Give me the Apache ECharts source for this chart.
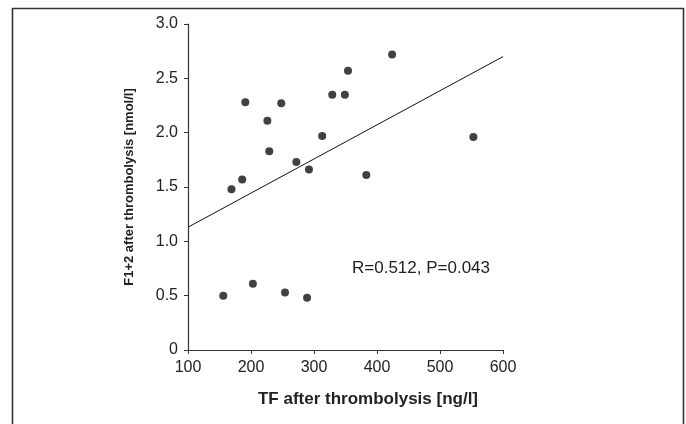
<!DOCTYPE html>
<html>
<head>
<meta charset="utf-8">
<script src="https://cdn.jsdelivr.net/npm/echarts@6/dist/echarts.min.js"></script>
<style>html,body{margin:0;padding:0;background:#fff}#c{width:686px;height:424px}</style>
</head>
<body>
<div id="c"></div>
<script>
var tfValues = [156, 203, 254, 289, 169, 186, 191, 226, 229, 248, 272, 292, 313, 329, 349, 354, 383, 424, 553];
var f12Values = [0.50, 0.61, 0.53, 0.48, 1.48, 1.57, 2.28, 2.11, 1.83, 2.27, 1.73, 1.66, 1.97, 2.35, 2.35, 2.57, 1.61, 2.72, 1.96];
var fitX = [100, 600];
var fitY = [1.13, 2.70];
var xTicks = [100, 200, 300, 400, 500, 600];
var yTicks = ['0', '0.5', '1.0', '1.5', '2.0', '2.5', '3.0'];
var xTitle = 'TF after thrombolysis [ng/l]';
var yTitle = 'F1+2 after thrombolysis [nmol/l]';
var statText = 'R=0.512, P=0.043';

var points = tfValues.map(function (v, i) { return [v, f12Values[i]]; });
var fit = fitX.map(function (v, i) { return [v, fitY[i]]; });
var font = 'Liberation Sans, Arial, Helvetica, sans-serif';

var chart = echarts.init(document.getElementById('c'), null, {renderer: 'canvas'});
chart.setOption({
  animation: false,
  backgroundColor: '#fff',
  grid: {left: 188, right: 183, top: 24, bottom: 74, containLabel: false},
  xAxis: {
    type: 'value', min: 100, max: 600, interval: 100,
    axisLine: {show: true, onZero: false, lineStyle: {color: '#333', width: 1.2}},
    axisTick: {show: true, length: 4, lineStyle: {color: '#333'}},
    splitLine: {show: false},
    axisLabel: {
      margin: 10, fontFamily: font, fontSize: 16, color: '#222',
      formatter: function (v) { return xTicks.indexOf(v) >= 0 ? String(v) : ''; }
    }
  },
  yAxis: {
    type: 'value', min: 0, max: 3, interval: 0.5,
    name: yTitle, nameLocation: 'middle', nameGap: 52, nameRotate: 90,
    nameTextStyle: {fontFamily: font, fontSize: 13, fontWeight: 'bold', color: '#222'},
    axisLine: {show: true, lineStyle: {color: '#333', width: 1.2}},
    axisTick: {show: true, length: 4, lineStyle: {color: '#333'}},
    splitLine: {show: false},
    axisLabel: {
      margin: 10, fontFamily: font, fontSize: 16, color: '#222',
      formatter: function (v) { return yTicks[Math.round(v / 0.5)]; }
    }
  },
  graphic: [
    {type: 'rect', left: 10, top: 6, shape: {width: 671, height: 440},
     style: {fill: 'none', stroke: '#333', lineWidth: 1.6}, silent: true},
    {type: 'text', x: 368, y: 391,
     style: {text: xTitle, font: 'bold 17px ' + font, fill: '#222', align: 'center', verticalAlign: 'top', textAlign: 'center', textVerticalAlign: 'top'}},
    {type: 'text', x: 352, y: 260,
     style: {text: statText, font: '17px ' + font, fill: '#222', align: 'left', verticalAlign: 'top', textAlign: 'left', textVerticalAlign: 'top'}}
  ],
  series: [
    {type: 'line', data: fit, symbol: 'none', lineStyle: {color: '#111', width: 1}, z: 2},
    {type: 'scatter', data: points, symbol: 'circle', symbolSize: 8,
     itemStyle: {color: '#111'}, z: 3}
  ]
});
</script>
</body>
</html>
